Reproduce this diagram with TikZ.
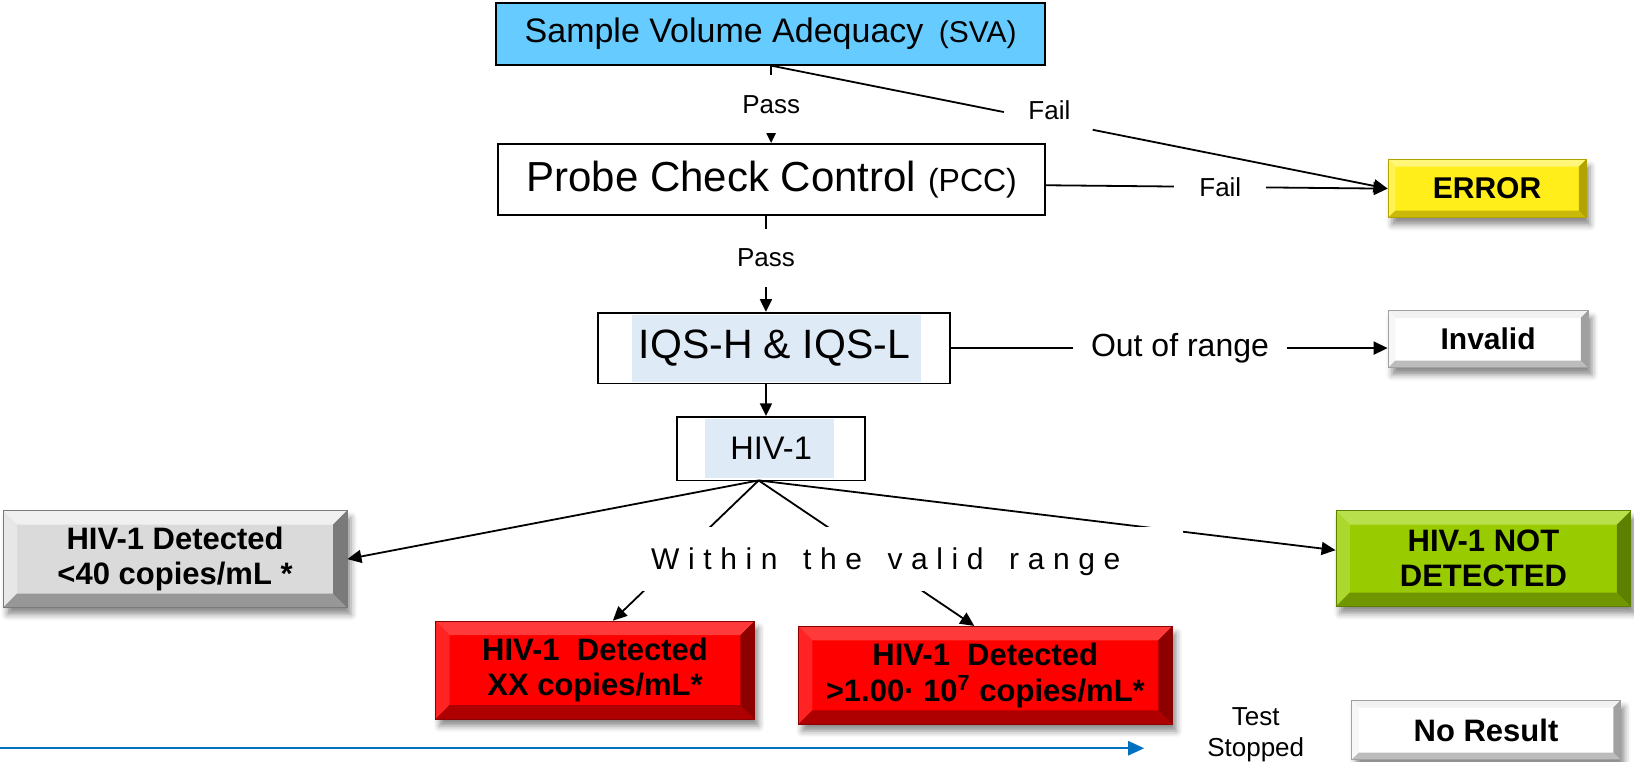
\documentclass[tikz,border=0pt]{standalone}
\usepackage{fontspec}
\setmainfont{Liberation Sans}
\usetikzlibrary{arrows.meta,calc,shadows.blur}
\definecolor{svablue}{HTML}{66CCFF}
\definecolor{hl}{HTML}{DEEBF7}
\definecolor{errY}{HTML}{FFEE1A}
\definecolor{errYl}{HTML}{FFF67A}
\definecolor{errYd}{HTML}{B3A300}
\definecolor{wl}{HTML}{F2F2F2}
\definecolor{wd}{HTML}{A0A0A0}
\definecolor{gr}{HTML}{DADADA}
\definecolor{grl}{HTML}{F0F0F0}
\definecolor{grd}{HTML}{7A7A7A}
\definecolor{rd}{HTML}{FF0000}
\definecolor{rdl}{HTML}{FF3A3A}
\definecolor{rdd}{HTML}{8C0000}
\definecolor{gn}{HTML}{99CC00}
\definecolor{gnl}{HTML}{B8E04D}
\definecolor{gnd}{HTML}{5E8000}
\definecolor{arrblue}{HTML}{0070C0}
\newcommand\ks{\kern4.3pt}
\tikzset{
  sz/.style 2 args={minimum width=#1*0.521pt, minimum height=#2*0.521pt},
  plainbox/.style={draw=black, line width=0.9pt, inner sep=0pt, fill=white},
  hlbox/.style 2 args={path picture={
      \fill[hl] ([xshift=#1,yshift=-1pt]path picture bounding box.north west)
        rectangle ([xshift=-#2,yshift=1pt]path picture bounding box.south east);}},
  bevelbox/.style n args={4}{inner sep=0pt, fill=#1, draw=#3, line width=0.4pt,
    blur shadow={shadow xshift=2pt, shadow yshift=-3.5pt, shadow blur radius=3pt, shadow opacity=45},
    path picture={
      \path (path picture bounding box.north west) coordinate (bNW)
            (path picture bounding box.north east) coordinate (bNE)
            (path picture bounding box.south west) coordinate (bSW)
            (path picture bounding box.south east) coordinate (bSE);
      \fill[#2] (bNW) -- (bNE) -- ([xshift=-#4,yshift=-#4]bNE) -- ([xshift=#4,yshift=-#4]bNW) -- cycle;
      \fill[#2!60!#1] (bNW) -- ([xshift=#4,yshift=-#4]bNW) -- ([xshift=#4,yshift=#4]bSW) -- (bSW) -- cycle;
      \fill[#3!70!#1] (bSW) -- (bSE) -- ([xshift=-#4,yshift=#4]bSE) -- ([xshift=#4,yshift=#4]bSW) -- cycle;
      \fill[#3] (bSE) -- ([xshift=-#4,yshift=#4]bSE) -- ([xshift=-#4,yshift=-#4]bNE) -- (bNE) -- cycle;
    }},
  conn/.style={line width=0.9pt, draw=black},
  bigtip/.style={-{Triangle[length=7pt,width=6.5pt]}},
  smalltip/.style={-{Triangle[length=6.3pt,width=6pt]}},
  lbl/.style={fill=white, inner sep=0pt, font=\fontsize{13}{15}\selectfont},
  boldtxt/.style={align=center, font=\bfseries\fontsize{15.5}{17.7}\selectfont},
}
\begin{document}
\begin{tikzpicture}[x=0.521pt,y=-0.521pt]
\useasboundingbox (0,0) rectangle (1568,731);

% main chain
\node[plainbox, fill=svablue, sz={527}{59}] (sva) at (739.5,32.5)
  {\fontsize{17}{20}\selectfont Sample Volume Adequacy\hspace{0.45em}{\fontsize{15}{18}\selectfont(SVA)}};
\node[plainbox, sz={525}{68}] (pcc) at (740.5,172)
  {\fontsize{21}{24}\selectfont Probe Check Control {\fontsize{16}{18}\selectfont(PCC)}};
\node[plainbox, hlbox={17pt}{14.5pt}, sz={338}{68}] (iqs) at (743,334)
  {\fontsize{20.5}{24}\selectfont IQS-H \& IQS-L};
\node[plainbox, hlbox={14pt}{15.5pt}, sz={180}{61}] (hiv) at (740,430.5)
  {\fontsize{16.3}{19}\selectfont HIV-1};

% result boxes
\node[bevelbox={errY}{errYl}{errYd}{3.6pt}, sz={190}{56}, boldtxt,
      font=\bfseries\fontsize{15}{18}\selectfont] (err) at (1427,181) {ERROR};
\node[bevelbox={white}{wl}{wd}{3.6pt}, sz={192}{55}, boldtxt,
      font=\bfseries\fontsize{15}{18}\selectfont] (inv) at (1428,325.5) {Invalid};
\node[bevelbox={gr}{grl}{grd}{7pt}, sz={330}{93}, boldtxt] (det40) at (168,536.5)
  {HIV-1 Detected\\<40 copies/mL *};
\node[bevelbox={rd}{rdl}{rdd}{7pt}, sz={306}{94}, boldtxt] (red1) at (571,643)
  {HIV-1~~Detected\\XX copies/mL*};
\node[bevelbox={rd}{rdl}{rdd}{7pt}, sz={359}{94}, boldtxt] (red2) at (945.5,648)
  {HIV-1~~Detected\\>1.00· 10\textsuperscript{7} copies/mL*};
\node[bevelbox={gn}{gnl}{gnd}{7pt}, sz={283}{92}, boldtxt] (grn) at (1423.5,536)
  {HIV-1 NOT\\DETECTED};
\node[bevelbox={white}{wl}{wd}{3.6pt}, sz={258}{57}, boldtxt] (nores) at (1426,700.5)
  {No Result};

% columns
\coordinate (colA) at (740,0);
\coordinate (colB) at (735,0);

% SVA -> PCC
\draw[conn, smalltip] (sva.south -| colA) -- node[lbl, inner ysep=10pt, inner xsep=2pt] (pass1) {Pass} (pcc.north -| colA);
% SVA -> ERROR
\path (sva.south) -- (err.west) coordinate[pos=0.378] (f1a) coordinate[pos=0.522] (f1b);
\draw[conn] (sva.south) -- (f1a);
\draw[conn, bigtip] (f1b) -- (err.west);
\node[font=\fontsize{13}{15}\selectfont] (fail1) at (1007,106) {Fail};
% PCC -> ERROR
\draw[conn, bigtip] ([yshift=-3pt]pcc.east) -- node[lbl, pos=0.51, inner xsep=12.5pt, inner ysep=2pt] (fail2) {Fail} (err.west);
% PCC -> IQS
\draw[conn, smalltip] (pcc.south -| colB) -- node[lbl, pos=0.44, inner ysep=10pt, inner xsep=2pt] (pass2) {Pass} (iqs.north -| colB);
% IQS -> Invalid
\draw[conn, bigtip] (iqs.east) -- node[lbl, pos=0.524, inner xsep=9pt, inner ysep=2pt, font=\fontsize{16}{19}\selectfont] (oor) {Out of range} (iqs.east -| inv.west);
% IQS -> HIV
\draw[conn, smalltip] (iqs.south -| colB) -- (hiv.north -| colB);

% HIV fan
\coordinate (fan) at (728,461);
\draw[conn, bigtip] (fan) -- (det40.east);
\draw[conn, bigtip] (fan) -- ([yshift=4.2pt]grn.west);
\draw[conn, bigtip] (fan) -- ([xshift=8.9pt]red1.north);
\draw[conn, bigtip] (fan) -- ([xshift=-5.5pt]red2.north);
\fill[white] (590,506) rectangle (1135,567);
\node[font=\fontsize{15}{18}\selectfont] (wvr) at (850,539)
  {W\ks i\ks t\ks h\ks i\ks n\ks\ \ks t\ks h\ks e\ks\ \ks v\ks a\ks l\ks i\ks d\ks\ \ks r\ks a\ks n\ks g\ks e};

% blue timeline
\coordinate (bl0) at (0,718);
\coordinate (bl1) at (1098,718);
\draw[arrblue, line width=1.2pt, -{Triangle[length=8pt,width=7pt]}] (bl0) -- (bl1);
\node[align=center, font=\fontsize{13}{15.6}\selectfont] (ts) at (1205,705) {Test\\Stopped};
\end{tikzpicture}
\end{document}
